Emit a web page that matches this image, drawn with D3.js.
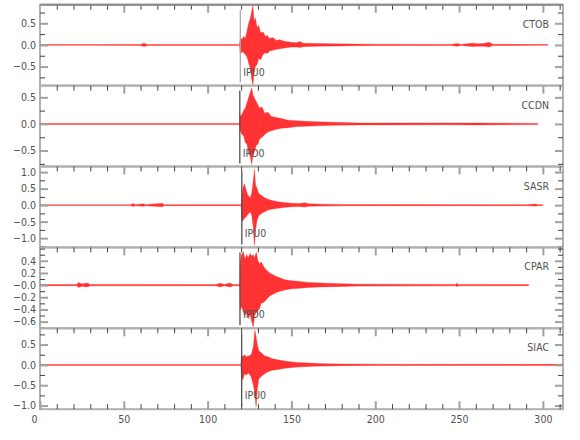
<!DOCTYPE html>
<html>
<head>
<meta charset="utf-8">
<script src="https://cdn.jsdelivr.net/npm/d3@7"></script>
<style>
  body { margin: 0; background: #fff; }
  text { font-family: "Liberation Sans Narrow", "DejaVu Sans Condensed", sans-serif; fill: #505050; }
</style>
</head>
<body>
<div id="chart"></div>
<script>
var svgWidth = 580;
var svgHeight = 440;

// station names, phase picks
var stations = ["CTOB", "CCDN", "SASR", "CPAR", "SIAC"];
var pickLabels = ["IPU0", "IPD0", "IPU0", "IPD0", "IPU0"];
var pickTimes = [119.5, 119.2, 120.4, 119.3, 120.3];

// y ranges of each trace and their labelled ticks
var yDomains = [[-0.94, 0.93], [-0.8, 0.72], [-1.28, 1.17], [-0.71, 0.62], [-1.09, 0.9]];
var yMajor = [[-0.5, 0, 0.5], [-0.5, 0, 0.5], [-1, -0.5, 0, 0.5, 1], [-0.6, -0.4, -0.2, 0, 0.2, 0.4], [-1, -0.5, 0, 0.5]];
var yLabels = [
  ["\u22120.5", "0.0", "0.5"],
  ["\u22120.5", "0.0", "0.5"],
  ["\u22121.0", "\u22120.5", "0.0", "0.5", "1.0"],
  ["\u22120.6", "\u22120.4", "\u22120.2", "\u22120.0", "0.2", "0.4"],
  ["\u22121.0", "\u22120.5", "0.0", "0.5"]
];
var yMinorStep = [0.25, 0.25, 0.25, 0.1, 0.25];

var xTicks = [0, 50, 100, 150, 200, 250, 300];

// trace envelopes: [time s, upper, lower]
var ctobEnv = [
  [0, 0.01, -0.01], [30, 0.01, -0.01], [60, 0.012, -0.012], [62, 0.04, -0.035], [64, 0.012, -0.012],
  [119, 0.012, -0.012], [119.6, 0.18, -0.22], [120.5, 0.12, -0.15], [121.5, 0.2, -0.18], [122.5, 0.15, -0.22],
  [123.5, 0.32, -0.28], [124.5, 0.5, -0.42], [125.5, 0.62, -0.55], [126.3, 0.78, -0.8], [127, 0.9, -0.92],
  [127.7, 0.55, -0.65], [128.5, 0.62, -0.5], [129.5, 0.4, -0.45], [130.5, 0.45, -0.3], [131.5, 0.28, -0.35],
  [133, 0.3, -0.22], [134.5, 0.2, -0.18], [135.5, 0.22, -0.2], [137, 0.15, -0.14], [139, 0.17, -0.12],
  [141, 0.1, -0.1], [143, 0.12, -0.09], [146, 0.08, -0.07], [150, 0.06, -0.05], [153, 0.05, -0.05],
  [155, 0.08, -0.06], [157, 0.04, -0.04], [165, 0.035, -0.03], [175, 0.025, -0.025], [200, 0.015, -0.015],
  [245, 0.012, -0.012], [249, 0.035, -0.03], [251, 0.012, -0.012], [258, 0.04, -0.035], [261, 0.03, -0.03],
  [265, 0.035, -0.03], [268, 0.06, -0.05], [270, 0.015, -0.015], [303, 0.01, -0.01]
];
var ccdnEnv = [
  [0, 0.01, -0.01], [119, 0.01, -0.01], [119.3, 0.15, -0.12], [120.5, 0.18, -0.2], [121.5, 0.25, -0.22],
  [122.5, 0.3, -0.35], [123.5, 0.4, -0.38], [124.5, 0.5, -0.55], [125.5, 0.6, -0.62], [126.3, 0.68, -0.76],
  [127, 0.55, -0.6], [128, 0.48, -0.52], [129, 0.42, -0.4], [130, 0.35, -0.38], [131, 0.3, -0.28],
  [132.5, 0.32, -0.25], [134, 0.2, -0.2], [136, 0.22, -0.15], [138, 0.14, -0.13], [141, 0.12, -0.1],
  [144, 0.1, -0.08], [148, 0.07, -0.07], [153, 0.06, -0.05], [158, 0.05, -0.045], [165, 0.04, -0.035],
  [175, 0.03, -0.025], [190, 0.018, -0.018], [243, 0.018, -0.016], [260, 0.018, -0.018], [297, 0.01, -0.01]
];
var sasrEnv = [
  [0, 0.012, -0.012], [54, 0.012, -0.012], [55.7, 0.05, -0.045], [57, 0.015, -0.015], [61.7, 0.04, -0.035],
  [63, 0.015, -0.015], [73, 0.06, -0.05], [74, 0.015, -0.015], [120, 0.015, -0.015], [120.4, 0.3, -0.5],
  [121.2, 0.55, -0.45], [122, 0.65, -0.4], [123, 0.45, -0.35], [124, 0.3, -0.28], [125.4, 0.22, -0.2],
  [126.3, 0.35, -0.3], [127.2, 0.7, -0.65], [127.9, 1.08, -1.22], [128.6, 0.6, -0.75], [129.5, 0.5, -0.45],
  [130.5, 0.35, -0.32], [132, 0.3, -0.25], [134, 0.22, -0.2], [136, 0.18, -0.15], [138.5, 0.14, -0.12],
  [141, 0.11, -0.1], [145, 0.08, -0.07], [150, 0.06, -0.05], [155, 0.05, -0.045], [158, 0.07, -0.06],
  [160, 0.04, -0.035], [168, 0.03, -0.03], [180, 0.02, -0.02], [210, 0.017, -0.017], [290, 0.015, -0.015],
  [295.5, 0.035, -0.03], [297, 0.015, -0.015], [300, 0.012, -0.012]
];
var cparEnv = [
  [0, 0.01, -0.01], [22, 0.01, -0.01], [23, 0.045, -0.04], [25, 0.02, -0.02], [28, 0.035, -0.03],
  [30, 0.012, -0.012], [105, 0.01, -0.01], [107.5, 0.03, -0.03], [110, 0.012, -0.012], [113.4, 0.035, -0.03],
  [115, 0.01, -0.01], [119.2, 0.01, -0.01], [119.4, 0.35, -0.4], [120.2, 0.5, -0.35], [121.3, 0.55, -0.44],
  [122.3, 0.42, -0.5], [123.3, 0.5, -0.45], [124.3, 0.45, -0.55], [125.3, 0.52, -0.48], [126.3, 0.48, -0.6],
  [127.2, 0.5, -0.69], [128, 0.45, -0.5], [129, 0.54, -0.45], [130, 0.4, -0.42], [131, 0.35, -0.38],
  [132, 0.38, -0.3], [133.5, 0.3, -0.28], [135, 0.25, -0.24], [137, 0.2, -0.18], [139, 0.17, -0.15],
  [141, 0.14, -0.12], [143, 0.12, -0.1], [146, 0.09, -0.08], [150, 0.07, -0.06], [155, 0.06, -0.05],
  [160, 0.045, -0.04], [167, 0.035, -0.03], [175, 0.025, -0.025], [190, 0.016, -0.016], [248, 0.012, -0.012],
  [248.7, 0.03, -0.025], [249.5, 0.012, -0.012], [291.5, 0.01, -0.01]
];
var siacEnv = [
  [0, 0.012, -0.012], [119.8, 0.012, -0.012], [120.2, 0.26, -0.3], [121, 0.2, -0.37], [122, 0.25, -0.22],
  [123, 0.2, -0.25], [124.5, 0.22, -0.2], [126, 0.25, -0.3], [127.3, 0.45, -0.5], [128.2, 0.85, -0.7],
  [128.9, 0.7, -1.03], [129.6, 0.5, -0.6], [130.5, 0.35, -0.35], [132, 0.3, -0.28], [134, 0.22, -0.22],
  [136, 0.2, -0.17], [138.5, 0.15, -0.13], [141, 0.13, -0.12], [145, 0.1, -0.09], [149, 0.08, -0.07],
  [153, 0.06, -0.055], [157, 0.05, -0.045], [163, 0.04, -0.035], [169, 0.03, -0.03], [180, 0.02, -0.02],
  [200, 0.016, -0.016], [312, 0.013, -0.013]
];
var envelopes = [ctobEnv, ccdnEnv, sasrEnv, cparEnv, siacEnv];

var plotLeft = 40, plotRight = 563, plotTop = 4.7, panelHeight = 80.9;

var svg = d3.select("#chart")
  .append("svg")
  .attr("width", svgWidth)
  .attr("height", svgHeight);

var xScale = d3.scaleLinear()
  .domain([0, 312])
  .range([plotLeft, plotRight]);

stations.forEach(function(name, i) {
  var top = plotTop + i * panelHeight;
  var bottom = top + panelHeight;
  var g = svg.append("g");

  var yScale = d3.scaleLinear()
    .domain(yDomains[i])
    .range([bottom, top]);

  // frame
  g.append("rect")
    .attr("x", plotLeft)
    .attr("y", top)
    .attr("width", plotRight - plotLeft)
    .attr("height", panelHeight)
    .attr("fill", "none")
    .attr("stroke", "#b0b0b0")
    .attr("stroke-width", 2);

  // waveform envelope
  var area = d3.area()
    .x(d => xScale(d[0]))
    .y0(d => yScale(d[2]))
    .y1(d => yScale(d[1]));

  g.append("path")
    .datum(envelopes[i])
    .attr("d", area)
    .attr("fill", "#ff0000")
    .attr("fill-opacity", 0.8)
    .attr("stroke", "#ff2020")
    .attr("stroke-opacity", 0.6)
    .attr("stroke-width", 0.6);

  // pick line and label
  var px = xScale(pickTimes[i]);
  g.append("line")
    .attr("x1", px).attr("x2", px)
    .attr("y1", top + 5).attr("y2", bottom - 3)
    .attr("stroke", i === 0 ? "#a8a8a8" : "#505050")
    .attr("stroke-width", 1.3);
  g.append("text")
    .attr("x", px + 3)
    .attr("y", bottom - 10)
    .attr("font-size", 10.5)
    .text(pickLabels[i]);

  // station name
  g.append("text")
    .attr("x", plotRight - 14)
    .attr("y", top + 23)
    .attr("text-anchor", "end")
    .attr("font-size", 10.5)
    .text(name);

  // x ticks on the top edge, pointing down
  var xMinorAxis = d3.axisTop(xScale)
    .tickValues(d3.range(10, 312, 10).filter(v => v % 50 !== 0))
    .tickSizeInner(-5).tickSizeOuter(0).tickFormat("");
  var xMajorAxis = d3.axisTop(xScale)
    .tickValues([50, 100, 150, 200, 250, 300])
    .tickSizeInner(-8).tickSizeOuter(0).tickFormat("");
  g.append("g").attr("class", "minor").attr("transform", `translate(0,${top})`).call(xMinorAxis);
  g.append("g").attr("class", "major").attr("transform", `translate(0,${top})`).call(xMajorAxis);

  // y ticks both sides
  var lo = Math.ceil(yDomains[i][0] / yMinorStep[i] - 1e-6);
  var hi = Math.floor(yDomains[i][1] / yMinorStep[i] + 1e-6);
  var minorVals = d3.range(lo, hi + 1).map(k => +(k * yMinorStep[i]).toFixed(3))
    .filter(v => yMajor[i].indexOf(v) < 0);

  var yMinorLeft = d3.axisLeft(yScale).tickValues(minorVals).tickSizeInner(-5).tickSizeOuter(0).tickFormat("");
  var yMajorLeft = d3.axisLeft(yScale).tickValues(yMajor[i]).tickSizeInner(-8).tickSizeOuter(0).tickPadding(4)
    .tickFormat((d, k) => yLabels[i][k]);
  var yMinorRight = d3.axisRight(yScale).tickValues(minorVals).tickSizeInner(-5).tickSizeOuter(0).tickFormat("");
  var yMajorRight = d3.axisRight(yScale).tickValues(yMajor[i]).tickSizeInner(-8).tickSizeOuter(0).tickFormat("");

  g.append("g").attr("class", "minor").attr("transform", `translate(${plotLeft},0)`).call(yMinorLeft);
  g.append("g").attr("class", "major").attr("transform", `translate(${plotLeft},0)`).call(yMajorLeft);
  g.append("g").attr("class", "minor").attr("transform", `translate(${plotRight},0)`).call(yMinorRight);
  g.append("g").attr("class", "major").attr("transform", `translate(${plotRight},0)`).call(yMajorRight);

  if (i === stations.length - 1) {
    var xMinorBottom = d3.axisBottom(xScale)
      .tickValues(d3.range(10, 312, 10).filter(v => v % 50 !== 0))
      .tickSizeInner(-5).tickSizeOuter(0).tickFormat("");
    var xMajorBottom = d3.axisBottom(xScale)
      .tickValues(xTicks)
      .tickSizeInner(-8).tickSizeOuter(0).tickPadding(6);
    g.append("g").attr("class", "minor").attr("transform", `translate(0,${bottom})`).call(xMinorBottom);
    g.append("g").attr("class", "major xlab").attr("transform", `translate(0,${bottom})`).call(xMajorBottom);
  }
});

// axis styling
svg.selectAll(".domain").remove();
svg.selectAll(".minor line").attr("stroke", "#404040").attr("stroke-width", 1);
svg.selectAll(".major line").attr("stroke", "#a0a0a0").attr("stroke-width", 2);
svg.selectAll(".tick text")
  .attr("font-size", 10.5)
  .attr("font-family", null)
  .attr("fill", "#505050");
// the 0 label sits a little left of its tick in the original
svg.selectAll(".xlab .tick text").filter(d => d === 0).attr("dx", -6);
// top frame edge is darker
svg.append("line")
  .attr("x1", plotLeft).attr("x2", plotRight)
  .attr("y1", plotTop).attr("y2", plotTop)
  .attr("stroke", "#8a8a8a").attr("stroke-width", 2);
</script>
</body>
</html>
